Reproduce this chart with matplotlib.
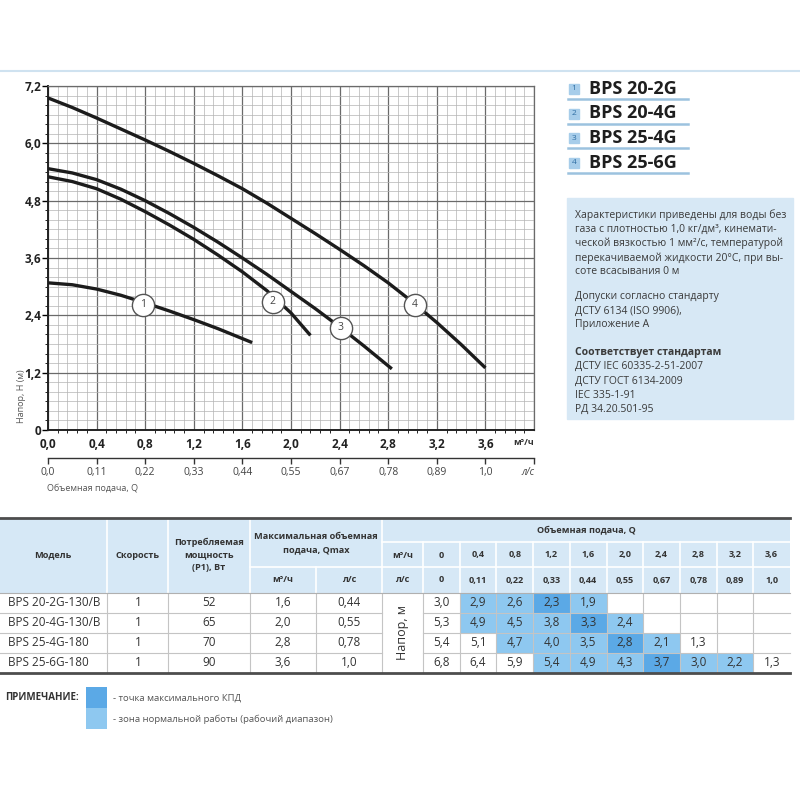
import matplotlib
matplotlib.use("Agg")
import matplotlib.pyplot as plt
from matplotlib.patches import Rectangle
from matplotlib.ticker import MultipleLocator

plt.rcParams['font.family'] = ['Open Sans', 'DejaVu Sans']

# --- кривые насосов (Q м3/ч, H м) ---
q1 = [0.0, 0.2, 0.4, 0.6, 0.8, 1.0, 1.2, 1.4, 1.68]
h1 = [3.08, 3.04, 2.95, 2.82, 2.66, 2.49, 2.31, 2.12, 1.83]
q2 = [0.0, 0.2, 0.4, 0.6, 0.8, 1.0, 1.2, 1.4, 1.6, 1.8, 2.0, 2.16]
h2 = [5.30, 5.20, 5.05, 4.83, 4.57, 4.29, 3.99, 3.66, 3.31, 2.92, 2.45, 1.98]
q3 = [0.0, 0.2, 0.4, 0.6, 0.8, 1.0, 1.2, 1.4, 1.6, 1.8, 2.0, 2.2, 2.4, 2.6, 2.83]
h3 = [5.47, 5.38, 5.24, 5.04, 4.80, 4.53, 4.24, 3.93, 3.60, 3.26, 2.90, 2.54, 2.16, 1.76, 1.28]
q4 = [0.0, 0.2, 0.4, 0.6, 0.8, 1.0, 1.2, 1.4, 1.6, 1.8, 2.0, 2.2, 2.4, 2.6, 2.8, 3.0,
      3.2, 3.4, 3.6]
h4 = [6.95, 6.75, 6.53, 6.30, 6.07, 5.83, 5.58, 5.32, 5.05, 4.75, 4.43, 4.11, 3.78, 3.44,
      3.08, 2.68, 2.25, 1.79, 1.30]
curves = [(q1, h1), (q2, h2), (q3, h3), (q4, h4)]
# позиции кружков с номерами
lab_q = [0.78, 1.85, 2.41, 3.02]
lab_h = [2.62, 2.68, 2.14, 2.62]

x_ticks = [0.0, 0.4, 0.8, 1.2, 1.6, 2.0, 2.4, 2.8, 3.2, 3.6]
x_labels = ['0,0', '0,4', '0,8', '1,2', '1,6', '2,0', '2,4', '2,8', '3,2', '3,6']
ls_labels = ['0,0', '0,11', '0,22', '0,33', '0,44', '0,55', '0,67', '0,78', '0,89', '1,0']
y_ticks = [0.0, 1.2, 2.4, 3.6, 4.8, 6.0, 7.2]
y_labels = ['0', '1,2', '2,4', '3,6', '4,8', '6,0', '7,2']

legend_names = ['BPS 20-2G', 'BPS 20-4G', 'BPS 25-4G', 'BPS 25-6G']

# --- таблица ---
models = ['BPS 20-2G-130/B', 'BPS 20-4G-130/B', 'BPS 25-4G-180', 'BPS 25-6G-180']
speed = ['1', '1', '1', '1']
power = ['52', '65', '70', '90']
qmax_m3h = ['1,6', '2,0', '2,8', '3,6']
qmax_ls = ['0,44', '0,55', '0,78', '1,0']
q_m3h = ['0', '0,4', '0,8', '1,2', '1,6', '2,0', '2,4', '2,8', '3,2', '3,6']
q_ls = ['0', '0,11', '0,22', '0,33', '0,44', '0,55', '0,67', '0,78', '0,89', '1,0']
head = [
    [3.0, 2.9, 2.6, 2.3, 1.9, None, None, None, None, None],
    [5.3, 4.9, 4.5, 3.8, 3.3, 2.4, None, None, None, None],
    [5.4, 5.1, 4.7, 4.0, 3.5, 2.8, 2.1, 1.3, None, None],
    [6.8, 6.4, 5.9, 5.4, 4.9, 4.3, 3.7, 3.0, 2.2, 1.3],
]
# n - рабочий диапазон, m - точка максимального КПД
zones = [
    ['', 'n', 'n', 'm', 'n', '', '', '', '', ''],
    ['', 'n', 'n', 'n', 'm', 'n', '', '', '', ''],
    ['', '', 'n', 'n', 'n', 'm', 'n', '', '', ''],
    ['', '', '', 'n', 'n', 'n', 'm', 'n', 'n', ''],
]

info_lines = [
    ('Характеристики приведены для воды без', 215, 'normal'),
    ('газа с плотностью 1,0 кг/дм³, кинемати-', 229, 'normal'),
    ('ческой вязкостью 1 мм²/с, температурой', 243, 'normal'),
    ('перекачиваемой жидкости 20°C, при вы-', 258, 'normal'),
    ('соте всасывания 0 м', 272, 'normal'),
    ('Допуски согласно стандарту', 297, 'normal'),
    ('ДСТУ 6134 (ISO 9906),', 311, 'normal'),
    ('Приложение А', 325, 'normal'),
    ('Соответствует стандартам', 352, 'bold'),
    ('ДСТУ IEC 60335-2-51-2007', 366, 'normal'),
    ('ДСТУ ГОСТ 6134-2009', 381, 'normal'),
    ('IEC 335-1-91', 395, 'normal'),
    ('РД 34.20.501-95', 409, 'normal'),
]

DARK = '#5ba9e6'
LIGHT = '#8ec8f0'
HEAD_BG = '#d6e8f6'
TXT = '#333333'

fig = plt.figure(figsize=(8, 8), dpi=100)
fig.patch.set_facecolor('white')

# подложка в пиксельных координатах
ov = fig.add_axes([0, 0, 1, 1], zorder=-1)
ov.set_xlim(0, 800)
ov.set_ylim(800, 0)
ov.axis('off')

ov.plot([0, 800], [71, 71], color='#cfe2f0', lw=1.5)

# ---------- график ----------
ax = fig.add_axes([48 / 800, 1 - 430 / 800, (534 - 48) / 800, (430 - 86) / 800])
ax.set_xlim(0, 4.0)
ax.set_ylim(0, 7.2)
ax.xaxis.set_minor_locator(MultipleLocator(0.08))
ax.yaxis.set_minor_locator(MultipleLocator(0.2))
ax.grid(which='minor', color='#b4b4b4', lw=0.5)
ax.grid(which='major', color='#6a6a6a', lw=0.9)
ax.set_axisbelow(True)
ax.set_xticks(x_ticks + [4.0], labels=x_labels + [''])
ax.set_yticks(y_ticks, labels=y_labels)
ax.tick_params(axis='x', length=0, pad=6, labelsize=8.5, labelcolor='#222')
ax.tick_params(axis='y', length=4, width=1, pad=1, labelsize=8.5, labelcolor='#222')
for t in ax.get_xticklabels() + ax.get_yticklabels():
    t.set_fontweight('bold')
for s in ['top', 'right']:
    ax.spines[s].set_color('#6a6a6a')
    ax.spines[s].set_linewidth(0.9)
for s in ['left', 'bottom']:
    ax.spines[s].set_color('#222')
    ax.spines[s].set_linewidth(1.4)

for (q, h) in curves:
    ax.plot(q, h, color='#1c1c1c', lw=2.4, solid_capstyle='butt', solid_joinstyle='round',
            zorder=3)
for i in range(4):
    ax.plot(lab_q[i], lab_h[i], 'o', ms=16, mfc='white', mec='#555', mew=1.0, zorder=4)
    ax.text(lab_q[i], lab_h[i], str(i + 1), ha='center', va='center', fontsize=7.5,
            color='#444', zorder=5)

ax.text(4.0, -0.27, 'м³/ч', ha='right', va='center', fontsize=6.5, fontweight='bold',
        color='#333')

# вторая шкала, л/с
sec = ax.secondary_xaxis(-0.08)
sec.set_xticks(x_ticks + [4.0], labels=ls_labels + [''])
sec.tick_params(axis='x', direction='out', length=4, width=1, pad=3, labelsize=7.5,
                labelcolor='#444', color='#333')
sec.spines['bottom'].set_color('#333')
sec.spines['bottom'].set_linewidth(1.0)
ax.text(4.0, -0.88, 'л/с', ha='right', va='center', fontsize=7, style='italic',
        color='#444')

ov.text(47, 488, 'Объемная подача, Q', ha='left', va='center', fontsize=6.5, color='#555')
ov.text(21, 396, 'Напор, Н (м)', ha='center', va='center', rotation=90, fontsize=6.5,
        color='#555')

# ---------- легенда ----------
for i, name in enumerate(legend_names):
    yc = 89 + i * 24.5
    ov.add_patch(Rectangle((569, yc - 5), 10, 10, color='#a7cdea'))
    ov.text(574, yc, str(i + 1), ha='center', va='center', fontsize=6, color='#2f6ea3')
    ov.text(589, yc, name, ha='left', va='center', fontsize=13, fontweight='bold',
            color='#1e1e1e')
    ov.plot([568, 688], [yc + 10, yc + 10], color='#9cc2df', lw=1.8)

# ---------- информационный блок ----------
ov.add_patch(Rectangle((567, 198), 226, 221, color='#d7e8f5'))
for txt, yy, w in info_lines:
    ov.text(575, yy, txt, ha='left', va='center', fontsize=7.5, fontweight=w, color='#3a3a3a')

# ---------- таблица ----------
cw = 36.7
col_x = [0, 107, 168, 250, 316, 382, 423]
val_x = [423 + cw * k for k in range(11)]
right = val_x[-1]
top, r1, r2, r3 = 518, 542, 567, 593
rh = 20

ov.add_patch(Rectangle((0, top), right, r3 - top, color=HEAD_BG, lw=0))

for i in range(4):
    for j in range(10):
        z = zones[i][j]
        if z:
            ov.add_patch(Rectangle((val_x[j], r3 + rh * i), cw, rh,
                                   color=DARK if z == 'm' else LIGHT, lw=0))

# линии шапки (белые)
wl = dict(color='white', lw=1.2)
for x in [107, 168, 250, 382]:
    ov.plot([x, x], [top, r3], **wl)
ov.plot([316, 316], [r2, r3], **wl)
ov.plot([250, 382], [r2, r2], **wl)
ov.plot([382, right], [r1, r1], **wl)
ov.plot([382, right], [r2, r2], **wl)
for x in val_x[:-1]:
    ov.plot([x, x], [r1, r3], **wl)

# линии данных (серые)
gl = dict(color='#c4c4c4', lw=0.8)
for x in col_x[1:] + val_x[1:-1]:
    ov.plot([x, x], [r3, r3 + 4 * rh], **gl)
for i in range(1, 4):
    yy = r3 + rh * i
    ov.plot([0, 382], [yy, yy], **gl)
    ov.plot([423, right], [yy, yy], **gl)
ov.plot([0, right], [r3, r3], color='#b0b0b0', lw=0.8)
ov.plot([0, right], [top, top], color='#4d4d4d', lw=2)
ov.plot([0, right], [r3 + 4 * rh, r3 + 4 * rh], color='#4d4d4d', lw=2)

hk = dict(ha='center', va='center', fontsize=6.6, fontweight='bold', color=TXT)
ov.text(53, 555, 'Модель', **hk)
ov.text(138, 555, 'Скорость', **hk)
ov.text(209, 555, 'Потребляемая\nмощность\n(P1), Вт', linespacing=1.5, **hk)
ov.text(316, 543, 'Максимальная объемная\nподача, Qmax', linespacing=1.5, **hk)
ov.text(283, 580, 'м³/ч', **hk)
ov.text(349, 580, 'л/с', **hk)
ov.text((382 + right) / 2, 531, 'Объемная подача, Q', **hk)
ov.text(402.5, 555, 'м³/ч', **hk)
ov.text(402.5, 580, 'л/с', **hk)
for j in range(10):
    xc = val_x[j] + cw / 2
    ov.text(xc, 555, q_m3h[j], **hk)
    ov.text(xc, 580, q_ls[j], **hk)

ov.text(402.5, r3 + 2 * rh, 'Напор, м', ha='center', va='center', rotation=90,
        fontsize=9, color=TXT)

dk = dict(ha='center', va='center', fontsize=8.5, color=TXT)
for i in range(4):
    yc = r3 + rh * i + rh / 2
    ov.text(8, yc, models[i], ha='left', va='center', fontsize=8.5, color=TXT)
    ov.text(138, yc, speed[i], **dk)
    ov.text(209, yc, power[i], **dk)
    ov.text(283, yc, qmax_m3h[i], **dk)
    ov.text(349, yc, qmax_ls[i], **dk)
    for j in range(10):
        v = head[i][j]
        if v is not None:
            ov.text(val_x[j] + cw / 2, yc, f'{v:.1f}'.replace('.', ','), **dk)

# ---------- примечание ----------
ov.text(5, 698, 'ПРИМЕЧАНИЕ:', ha='left', va='center', fontsize=7, fontweight='bold',
        color=TXT)
ov.add_patch(Rectangle((86, 687), 21, 21, color=DARK, lw=0))
ov.add_patch(Rectangle((86, 708), 21, 21, color=LIGHT, lw=0))
ov.text(113, 698, '- точка максимального КПД', ha='left', va='center', fontsize=6.8,
        color='#555')
ov.text(113, 719, '- зона нормальной работы (рабочий диапазон)', ha='left', va='center',
        fontsize=6.8, color='#555')

fig.savefig('out.png', dpi=100)
